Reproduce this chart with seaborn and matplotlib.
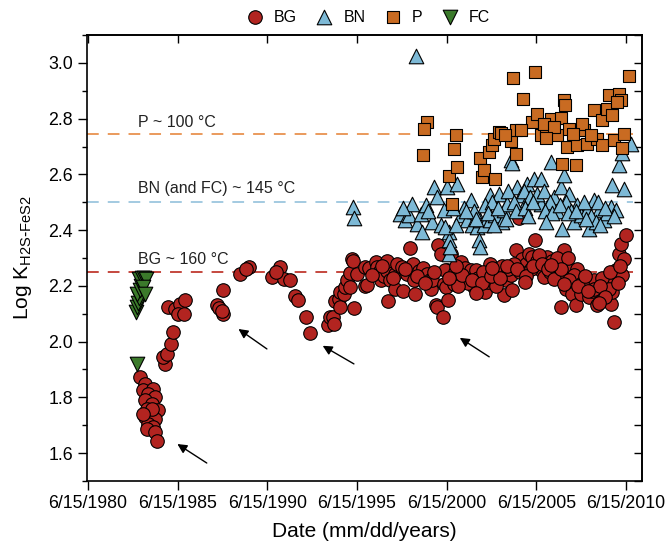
import matplotlib
matplotlib.use("Agg")
from matplotlib import pyplot as plt
from matplotlib.ticker import MultipleLocator, NullFormatter
import seaborn as sns

# Date ticks (decimal years at June 15).
tick_year = [1980.45, 1985.45, 1990.45, 1995.45, 2000.45, 2005.45, 2010.45]
tick_label = ["6/15/1980", "6/15/1985", "6/15/1990", "6/15/1995", "6/15/2000", "6/15/2005", "6/15/2010"]

# BG series (decimal year, log K).
bg_year = [
    1983.35, 1983.63, 1983.54, 1984.10, 1983.82, 1984.19, 1983.63, 1984.00, 1983.73, 1984.38,
    1983.91, 1983.63, 1984.19, 1983.82, 1984.10, 1983.73, 1984.19, 1984.28, 1984.00, 1983.54,
    1984.75, 1984.66, 1984.84, 1985.08, 1985.18,
    1984.94, 1985.31, 1985.59, 1985.87, 1985.50, 1985.81,
    1987.64, 1987.75, 1988.01, 1988.01, 1987.92,
    1988.94, 1989.46, 1989.25,
    1990.71, 1991.14, 1991.36, 1990.95,
    1991.73, 1992.00, 1992.18, 1992.63, 1992.85,
    1993.86, 1993.97, 1994.14, 1994.16, 1994.25, 1994.44, 1994.53, 1994.53, 1994.72, 1994.80,
    1994.90, 1995.09, 1995.09, 1995.18, 1995.25, 1995.30, 1995.46, 1995.90, 1995.93, 1996.02,
    1996.10, 1996.50, 1996.58, 1996.76, 1996.77, 1996.95, 1997.14, 1997.15, 1997.20, 1997.32,
    1997.60, 1997.60, 1997.70, 1997.98, 1998.05, 1998.26, 1998.40, 1998.60, 1998.63, 1998.70,
    1998.91, 1999.16, 1999.37, 1999.55, 1999.56, 1999.65, 1999.84, 1999.93, 1999.95, 2000.12,
    2000.28, 2000.30, 2000.40, 2000.49, 2000.52, 2000.70, 2000.86,
    2000.39, 2001.23, 2001.50, 2001.79, 2002.07, 2001.97, 2002.34, 2002.62, 2002.90, 2003.09,
    2003.37, 2003.55, 2003.74, 2003.65, 2004.11, 2004.02, 2004.30, 2004.49, 2005.38, 2004.67,
    2004.86, 2005.04, 2005.23, 2005.51, 2005.70, 2005.88, 2006.07, 2006.35, 2006.53, 2006.72,
    2007.00, 2006.90, 2007.09, 2006.81, 2007.37, 2007.74, 2007.46, 2007.65, 2007.93, 2008.21,
    2008.40, 2008.68, 2008.86, 2009.05, 2009.23, 2009.42, 2009.60, 2009.70, 2009.79, 2009.89,
    2010.07, 2010.26, 2010.16, 2010.44, 2010.35,
    2001.40, 2001.65, 2002.20, 2002.50, 2002.75, 2003.20, 2003.90, 2004.20, 2004.55, 2005.15,
    2005.60, 2006.20, 2006.60, 2007.20, 2007.55, 2008.00, 2008.55, 2009.10, 2009.50, 2010.00,
    2000.95, 2001.10,
    2001.30, 2001.85, 2002.45, 2002.95, 2003.45, 2003.80, 2004.40, 2004.90, 2005.30, 2005.80,
    2006.10, 2006.45, 2006.85, 2007.30, 2007.80, 2008.15, 2008.70, 2009.00, 2009.30, 2009.55,
    2010.10, 2002.10, 2003.00, 2004.80, 2006.30, 2007.00, 2008.35, 2008.95, 2001.00, 2000.60,
    1996.30, 1996.85, 1997.45, 1998.15, 1998.80, 1999.25, 1999.75,
]
bg_logk = [
    1.873, 1.849, 1.825, 1.831, 1.813, 1.801, 1.789, 1.777, 1.759, 1.753,
    1.741, 1.729, 1.723, 1.705, 1.693, 1.687, 1.675, 1.645, 1.759, 1.741,
    1.921, 1.944, 1.956, 1.992, 2.034,
    2.124, 2.118, 2.136, 2.148, 2.100, 2.098,
    2.130, 2.120, 2.186, 2.098, 2.110,
    2.244, 2.268, 2.262,
    2.232, 2.268, 2.226, 2.250,
    2.220, 2.165, 2.148, 2.087, 2.030,
    2.060, 2.088, 2.090, 2.064, 2.147, 2.154, 2.177, 2.124, 2.172, 2.195,
    2.220, 2.245, 2.196, 2.297, 2.290, 2.120, 2.244, 2.200, 2.267, 2.202,
    2.265, 2.285, 2.267, 2.255, 2.220, 2.237, 2.255, 2.290, 2.147, 2.220,
    2.244, 2.190, 2.280, 2.267, 2.180, 2.244, 2.335, 2.280, 2.220, 2.170,
    2.255, 2.265, 2.244, 2.220, 2.190, 2.220, 2.130, 2.124, 2.345, 2.315,
    2.087, 2.208, 2.196, 2.256, 2.148, 2.315, 2.208,
    2.256, 2.285, 2.265, 2.256, 2.256, 2.196, 2.184, 2.178, 2.280, 2.240,
    2.260, 2.270, 2.220, 2.166, 2.184, 2.240, 2.327, 2.443, 2.366, 2.297,
    2.280, 2.315, 2.303, 2.290, 2.256, 2.232, 2.303, 2.290, 2.240, 2.280,
    2.327, 2.232, 2.190, 2.124, 2.256, 2.260, 2.172, 2.130, 2.172, 2.196,
    2.160, 2.220, 2.130, 2.172, 2.196, 2.232, 2.136, 2.178, 2.070, 2.256,
    2.315, 2.238, 2.351, 2.381, 2.297,
    2.230, 2.210, 2.230, 2.250, 2.215, 2.200, 2.260, 2.280, 2.250, 2.260,
    2.310, 2.250, 2.300, 2.300, 2.240, 2.210, 2.180, 2.230, 2.190, 2.210,
    2.250, 2.200,
    2.240, 2.220, 2.210, 2.235, 2.230, 2.270, 2.260, 2.235, 2.270, 2.280,
    2.260, 2.225, 2.260, 2.220, 2.200, 2.235, 2.190, 2.200, 2.160, 2.250,
    2.270, 2.175, 2.265, 2.215, 2.275, 2.205, 2.180, 2.140, 2.270, 2.230,
    2.240, 2.270, 2.230, 2.260, 2.235, 2.210, 2.250,
]

# BN series.
bn_year = [
    1995.24, 1995.31, 1998.72,
    1997.88, 1998.16, 1998.35, 1998.54, 1998.81, 1999.00, 1999.09, 1999.28, 1999.65, 1999.75,
    1999.93, 2000.12, 2000.30, 2000.58, 2000.58, 2000.58, 2000.48, 2000.39, 2000.67, 2001.05,
    2001.23, 2001.60, 2001.79, 2001.88, 2002.16, 2002.25, 2002.34, 2002.34, 2002.53, 2002.90,
    2002.90, 2003.18, 2003.37, 2003.55, 2003.65, 2003.83, 2004.02, 2004.10, 2004.39, 2004.58,
    2004.95, 2004.95, 2005.32, 2005.70, 2005.70, 2006.07, 2006.25, 2006.44, 2006.81, 2006.90,
    2006.99, 2007.28, 2007.56, 2007.74, 2007.93, 2008.30, 2008.40, 2008.68, 2008.96, 2009.23,
    2009.60, 2009.70, 2009.89, 2010.07, 2010.26, 2010.72, 2010.35,
    2001.40, 2002.00, 2002.60, 2003.00, 2003.90, 2004.20, 2004.75, 2005.10, 2005.50, 2005.90,
    2006.20, 2006.60, 2007.10, 2007.40, 2008.10, 2008.50, 2008.80, 2009.40, 2009.00, 1999.40,
    1998.00, 2000.80, 2001.00,
    2001.55, 2002.10, 2002.75, 2003.30, 2003.75, 2004.30, 2004.85, 2005.25, 2005.95, 2006.35,
    2006.75, 2007.20, 2007.65, 2008.20, 2008.90, 2009.30, 2009.80, 2003.10, 2005.00, 2006.00,
]
bn_logk = [
    2.483, 2.443, 3.026,
    2.459, 2.435, 2.453, 2.495, 2.423, 2.459, 2.393, 2.489, 2.429, 2.555,
    2.519, 2.417, 2.471, 2.393, 2.363, 2.315, 2.555, 2.411, 2.340, 2.567,
    2.453, 2.435, 2.507, 2.417, 2.411, 2.363, 2.339, 2.435, 2.417, 2.525,
    2.435, 2.453, 2.531, 2.429, 2.471, 2.495, 2.651, 2.640, 2.555, 2.525,
    2.567, 2.507, 2.585, 2.585, 2.495, 2.483, 2.645, 2.519, 2.555, 2.405,
    2.597, 2.531, 2.429, 2.489, 2.453, 2.471, 2.405, 2.507, 2.471, 2.435,
    2.483, 2.561, 2.471, 2.633, 2.675, 2.710, 2.549,
    2.480, 2.470, 2.490, 2.500, 2.540, 2.500, 2.540, 2.520, 2.530, 2.540,
    2.500, 2.470, 2.500, 2.470, 2.500, 2.450, 2.430, 2.460, 2.420, 2.470,
    2.480, 2.480, 2.420,
    2.470, 2.440, 2.460, 2.480, 2.440, 2.470, 2.480, 2.500, 2.470, 2.460,
    2.490, 2.460, 2.470, 2.440, 2.500, 2.480, 2.450, 2.420, 2.450, 2.430,
]

# P series.
p_year = [
    1999.34, 1999.22, 1999.13,
    2000.58, 2000.77, 2000.86, 2000.96, 2001.01,
    2002.34, 2002.44, 2002.53, 2002.81, 2003.00, 2003.09, 2003.13, 2003.37, 2003.50, 2004.02,
    2004.15, 2004.35, 2004.35, 2004.73, 2005.23, 2005.38, 2005.47, 2005.70, 2005.98, 2006.25,
    2006.63, 2006.81, 2006.90, 2007.00, 2007.04, 2007.18, 2007.28, 2007.65, 2007.74, 2008.12,
    2008.30, 2008.68, 2008.86, 2009.14, 2009.14, 2009.42, 2009.51, 2009.70, 2009.79, 2010.07,
    2010.16, 2010.26, 2010.35, 2010.63,
    2005.90, 2006.45, 2008.00, 2008.50, 2009.95, 2007.50, 2006.00, 2004.60, 2003.70,
]
p_logk = [
    2.788, 2.761, 2.671,
    2.593, 2.495, 2.692, 2.740, 2.627,
    2.657, 2.590, 2.615, 2.680, 2.704, 2.728, 2.585, 2.752, 2.750, 2.720,
    2.947, 2.758, 2.672, 2.872, 2.788, 2.968, 2.816, 2.740, 2.764, 2.797,
    2.740, 2.804, 2.636, 2.866, 2.848, 2.698, 2.764, 2.633, 2.704, 2.758,
    2.710, 2.830, 2.728, 2.794, 2.704, 2.836, 2.884, 2.812, 2.722, 2.890,
    2.866, 2.693, 2.746, 2.952,
    2.780, 2.770, 2.780, 2.740, 2.860, 2.745, 2.730, 2.760, 2.740,
]

# FC series.
fc_year = [1983.15, 1983.20, 1983.25, 1983.30, 1983.20, 1983.35, 1983.40, 1983.50,
           1983.30, 1983.45, 1983.60, 1983.70, 1983.55, 1983.65, 1983.20]
fc_logk = [2.105, 2.125, 2.140, 2.155, 2.170, 2.185, 2.200, 2.215,
           2.225, 2.230, 2.230, 2.225, 2.195, 2.170, 1.920]

# Reference levels and their labels.
ref_logk = [2.745, 2.50, 2.25]
ref_label = ["P ~ 100 °C", "BN (and FC) ~ 145 °C", "BG ~ 160 °C"]
ref_label_logk = [2.787, 2.55, 2.295]
ref_color = ["#e8924f", "#9cc6de", "#c0392f"]

# Arrows (tail, head) in data units.
arrows = [
    ((1987.21, 1.559), (1985.31, 1.638)),
    ((1990.56, 1.968), (1988.72, 2.051)),
    ((1995.42, 1.915), (1993.41, 1.990)),
    ((2002.96, 1.940), (2001.06, 2.019)),
]

sns.set_style("ticks")
plt.rcParams["font.family"] = ["Liberation Sans", "DejaVu Sans"]
plt.rcParams.update({"text.color": "black", "axes.labelcolor": "black",
                     "xtick.color": "black", "ytick.color": "black"})

fig = plt.figure(figsize=(6.65, 5.47), dpi=100)
ax = fig.add_axes([0.1308, 0.1207, 0.8346, 0.8153])

for y, c in zip(ref_logk, ref_color):
    ax.hlines(y, 1980.4, 2010.85, colors=c, linestyles=(0, (6.5, 5)), lw=1.3, zorder=1)
for y, t in zip(ref_label_logk, ref_label):
    ax.text(1983.25, y, t, va="center", ha="left", fontsize=11.5, color="#222222")

series = [
    ("BG", bg_year, bg_logk, "o", "#b22420", 95),
    ("BN", bn_year, bn_logk, "^", "#7db9d6", 110),
    ("P", p_year, p_logk, "s", "#c96b22", 80),
    ("FC", fc_year, fc_logk, "v", "#3b7a2b", 110),
]
for name, xs, ys, mk, col, s in series:
    sns.scatterplot(x=xs, y=ys, marker=mk, color=col, s=s, edgecolor="black",
                    linewidth=0.8, label=name, ax=ax, zorder=3)

for tail, head in arrows:
    ax.annotate("", xy=head, xytext=tail,
                arrowprops=dict(arrowstyle="-|>", color="black", lw=1, mutation_scale=14))

ax.set_xlim(1980.4, 2011.35)
ax.set_ylim(1.5, 3.1)
ax.set_xticks(tick_year)
ax.set_xticklabels(tick_label)
ax.yaxis.set_major_locator(MultipleLocator(0.2))
ax.yaxis.set_minor_locator(MultipleLocator(0.1))
ax.yaxis.set_major_formatter(lambda v, p: f"{v:.1f}")
ax.tick_params(axis="both", which="major", direction="out", length=6.5, width=1,
               labelsize=12.8, colors="black", top=False, right=False)
ax.tick_params(axis="y", which="minor", direction="out", length=3.5, width=1,
               colors="black", right=False)
for sp in ax.spines.values():
    sp.set_linewidth(1.2)
    sp.set_color("black")

top = ax.secondary_xaxis("top")
top.set_xticks(tick_year)
top.xaxis.set_major_formatter(NullFormatter())
top.tick_params(direction="in", length=6, width=1, colors="black")
right = ax.secondary_yaxis("right")
right.yaxis.set_major_locator(MultipleLocator(0.1))
right.yaxis.set_major_formatter(NullFormatter())
right.tick_params(direction="in", length=6, width=1, colors="black")
for sec in (top, right):
    for sp in sec.spines.values():
        sp.set_linewidth(1.2)
        sp.set_color("black")

ax.set_xlabel("Date (mm/dd/years)", fontsize=15, labelpad=7)
ax.set_ylabel(r"Log K$_{\mathregular{H2S\text{-}FeS2}}$", fontsize=15, labelpad=10)

ax.legend(loc="lower center", bbox_to_anchor=(0.5, 1.0), ncol=4, frameon=False,
          fontsize=11.5, handletextpad=0.2, columnspacing=0.7, borderaxespad=0.25)

fig.savefig("out.png", dpi=100)
